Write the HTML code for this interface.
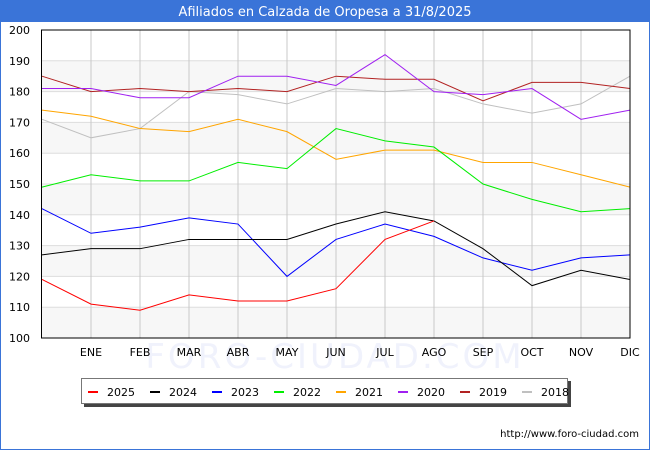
<!DOCTYPE html>
<html><head><meta charset="utf-8"><style>
body{margin:0;background:#fff;font-family:"Liberation Sans","DejaVu Sans",sans-serif;}
svg text{font-family:"DejaVu Sans","Liberation Sans",sans-serif;}
</style></head><body>
<svg id="chart" width="650" height="450" xmlns="http://www.w3.org/2000/svg">
<rect x="0.5" y="0.5" width="649" height="449" fill="#fff" stroke="#3a74d8"/>
<rect x="0" y="0" width="650" height="22" fill="#3a74d8"/>
<text x="325" y="16" fill="#fff" font-size="13" text-anchor="middle">Afiliados en Calzada de Oropesa a 31/8/2025</text>
<text x="335" y="368" fill="#f0f2fc" font-size="34" text-anchor="middle" letter-spacing="3">FORO-CIUDAD.COM</text>
<g id="plot"></g>
<g id="legend"></g>
<text x="639" y="437" font-size="10" text-anchor="end" fill="#000">http://www.foro-ciudad.com</text>
</svg>
<script>
const months=["","ENE","FEB","MAR","ABR","MAY","JUN","JUL","AGO","SEP","OCT","NOV","DIC"];
const yTicks=[100,110,120,130,140,150,160,170,180,190,200];
const seriesNames=["2025","2024","2023","2022","2021","2020","2019","2018"];
const seriesColors=["#ff0000","#000000","#0000ff","#00ee00","#ffa500","#a020f0","#b22222","#c0c0c0"];
const s2025=[119,111,109,114,112,112,116,132,138];
const s2024=[127,129,129,132,132,132,137,141,138,129,117,122,119];
const s2023=[142,134,136,139,137,120,132,137,133,126,122,126,127];
const s2022=[149,153,151,151,157,155,168,164,162,150,145,141,142];
const s2021=[174,172,168,167,171,167,158,161,161,157,157,153,149];
const s2020=[181,181,178,178,185,185,182,192,180,179,181,171,174];
const s2019=[185,180,181,180,181,180,185,184,184,177,183,183,181];
const s2018=[171,165,168,180,179,176,181,180,181,176,173,176,185];
const allSeries=[s2025,s2024,s2023,s2022,s2021,s2020,s2019,s2018];

const NS="http://www.w3.org/2000/svg";
const X0=42,X1=630,Y0=338,Y1=30,YMIN=100,YMAX=200;
const xs=i=>X0+(X1-X0)*i/(months.length-1);
const ys=v=>Y0-(v-YMIN)/(YMAX-YMIN)*(Y0-Y1);
function mk(tag,attrs,parent){const e=document.createElementNS(NS,tag);for(const k in attrs)e.setAttribute(k,attrs[k]);parent.appendChild(e);return e;}
const plot=document.getElementById('plot');
for(let i=0;i<yTicks.length-1;i++){
  if(i%2===0){
    const b=mk('rect',{x:X0,y:ys(yTicks[i+1]),width:X1-X0,height:ys(yTicks[i])-ys(yTicks[i+1]),fill:'#f7f7f7'},plot);
    
    
  }
}
yTicks.forEach(v=>{
  const l=mk('line',{x1:X0,x2:X1,y1:ys(v),y2:ys(v),stroke:'#dddddd'},plot);
  
  
  const t=mk('text',{x:30,y:ys(v)+4,'font-size':11,'text-anchor':'end',fill:'#000'},plot);
  t.textContent=v;
  
  
});
months.forEach((m,i)=>{
  if(i>0){
    const l=mk('line',{x1:xs(i),x2:xs(i),y1:Y1,y2:Y0,stroke:'#c8c8c8'},plot);
    
    
  }
  const t=mk('text',{x:xs(i),y:356,'font-size':11,'text-anchor':'middle',fill:'#000'},plot);
  t.textContent=m;
  
  
});
for(let s=allSeries.length-1;s>=0;s--){
  const pts=allSeries[s].map((v,i)=>xs(i)+','+ys(v)).join(' ');
  const p=mk('polyline',{points:pts,fill:'none',stroke:seriesColors[s],'stroke-width':1},plot);
  
  
}
const ax=mk('rect',{x:X0-0.5,y:Y1,width:X1-X0+0.5,height:Y0-Y1,fill:'none',stroke:'#000'},plot);



const lg=document.getElementById('legend');
const sh=mk('rect',{x:84,y:381,width:487,height:26,fill:'#444'},lg);


const box=mk('rect',{x:81.5,y:378.5,width:486,height:25,fill:'#fff',stroke:'#777'},lg);


seriesNames.forEach((n,i)=>{
  const x=88+i*62;
  const g=mk('g',{},lg);
  
  
  mk('rect',{x:x,y:391,width:10,height:2,fill:seriesColors[i]},g);
  const t=mk('text',{x:x+19,y:396,'font-size':11,fill:'#000'},g);
  t.textContent=n;
});
</script>
</body></html>
